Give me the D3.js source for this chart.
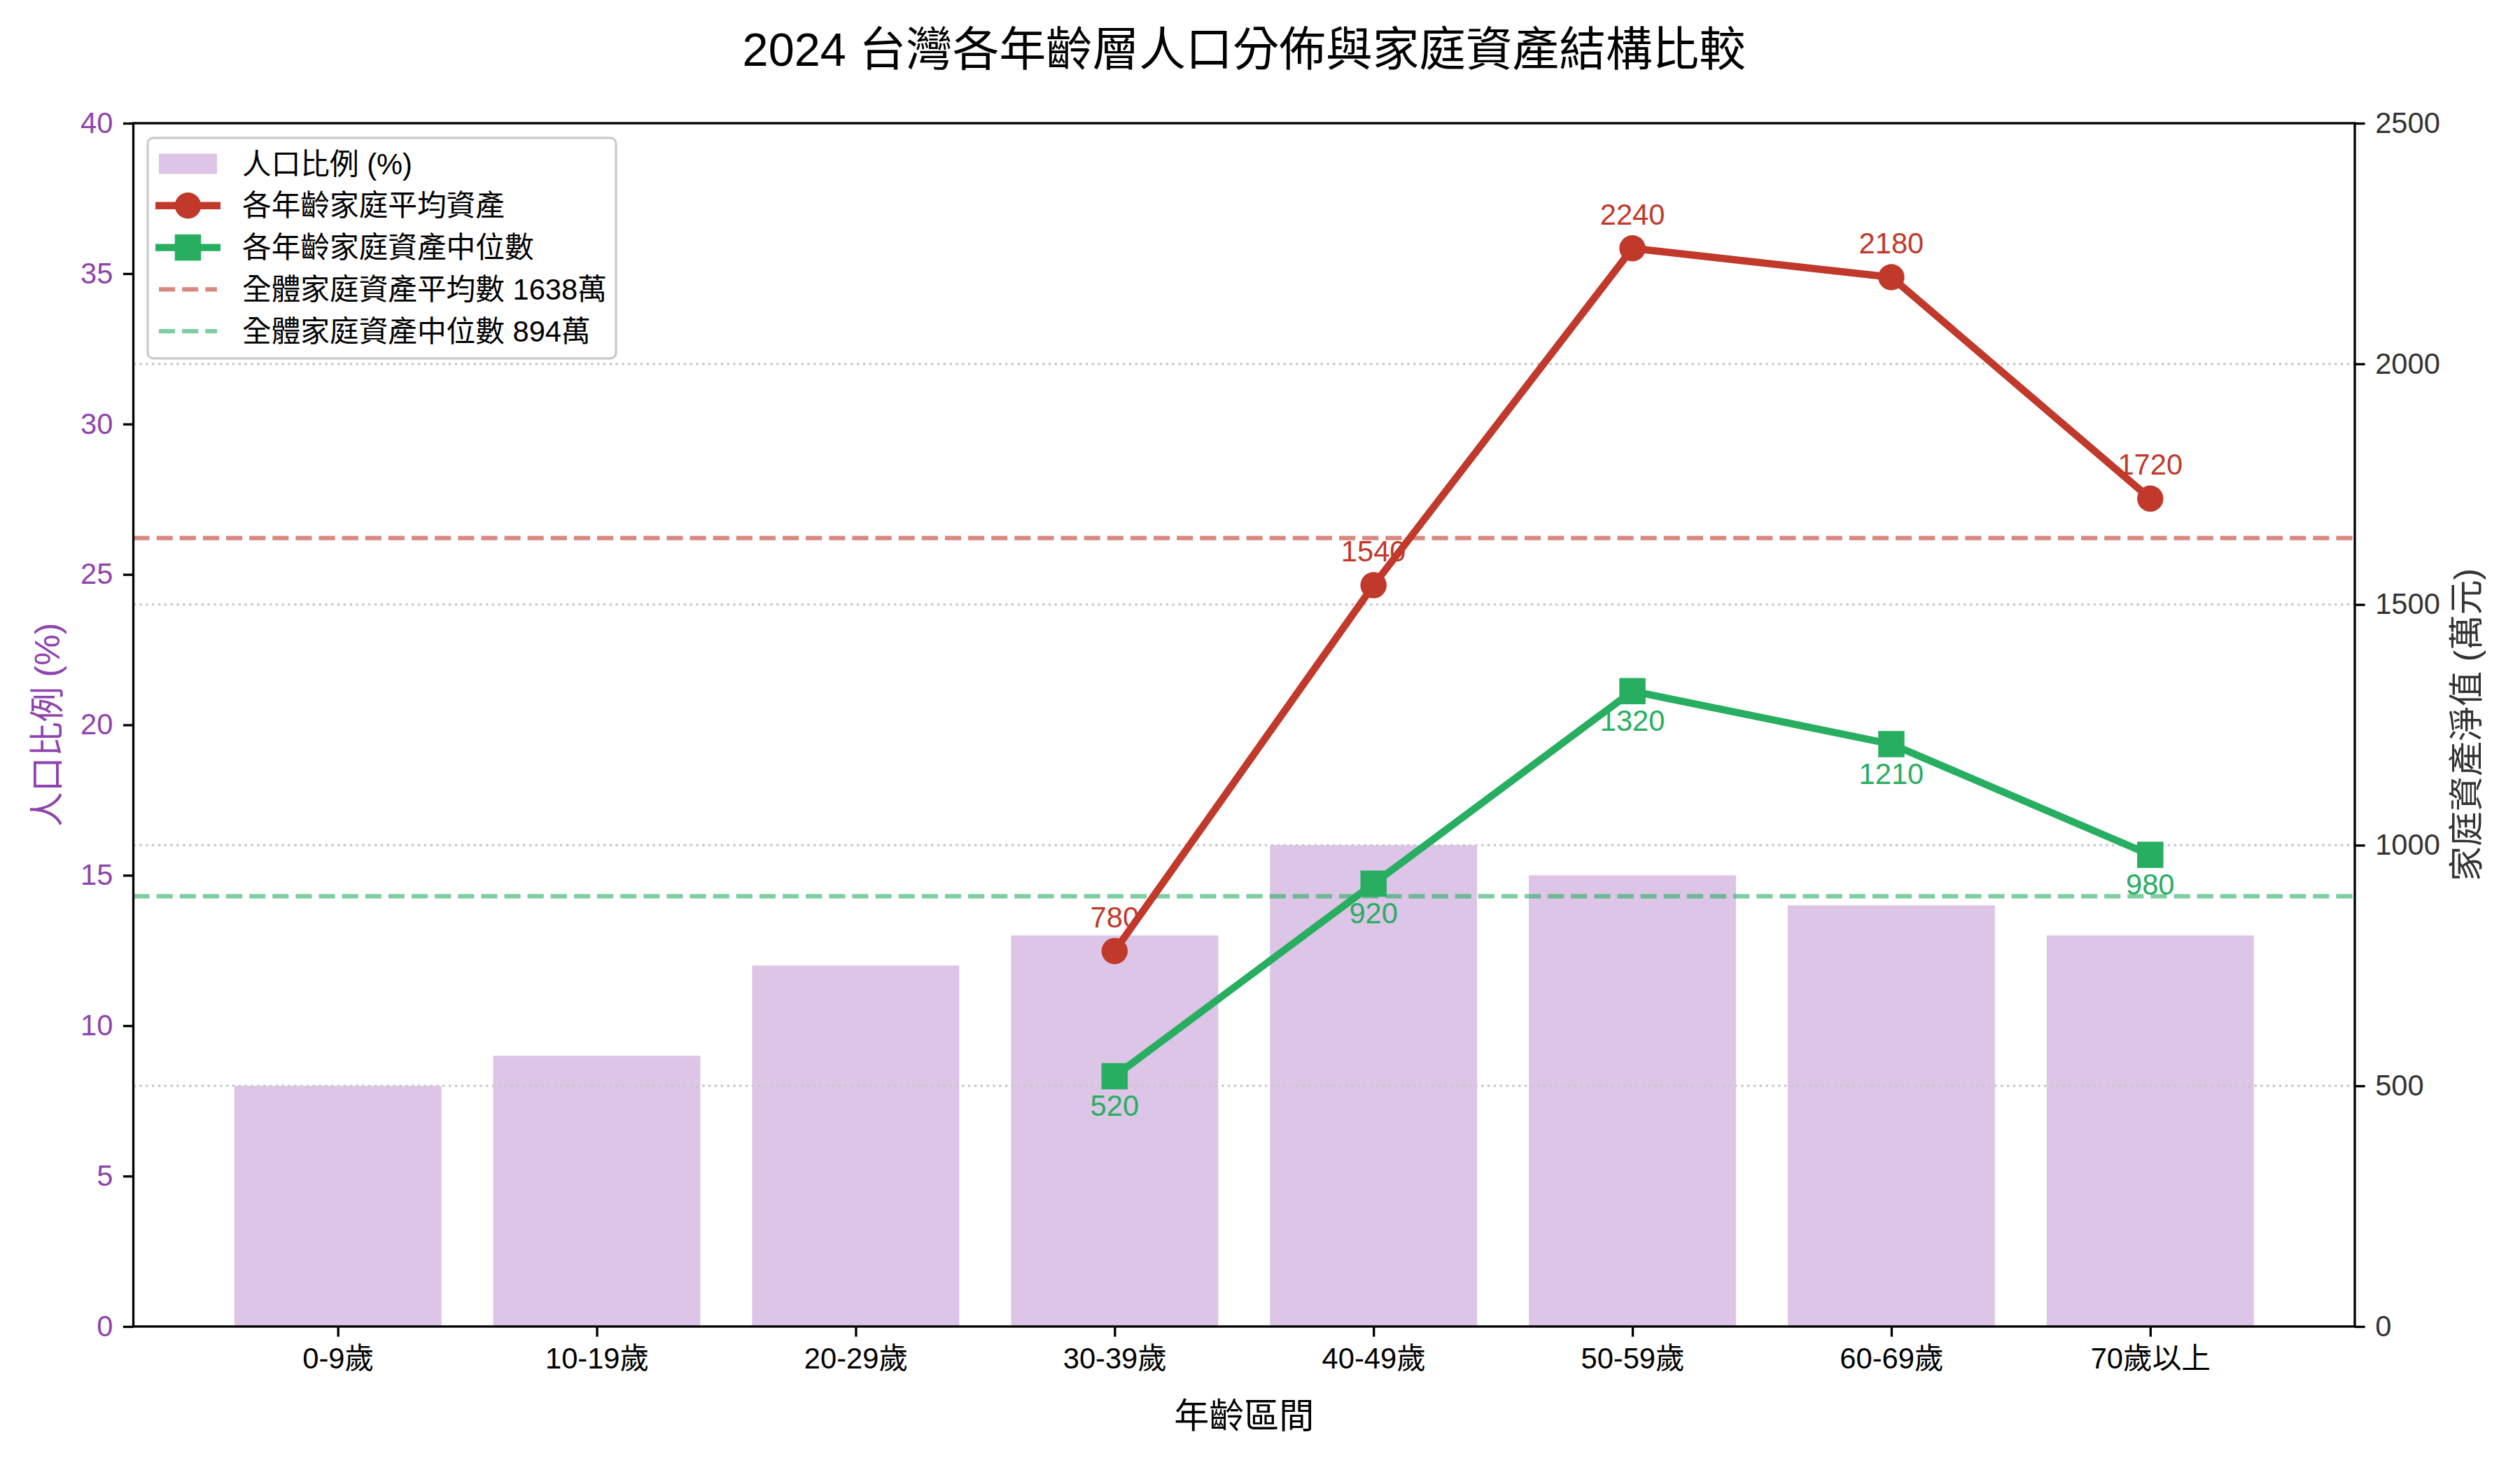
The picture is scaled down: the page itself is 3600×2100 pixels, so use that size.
<!DOCTYPE html>
<html>
<head>
<meta charset="utf-8">
<script src="https://cdn.jsdelivr.net/npm/d3@7"></script>
<style>
  body { margin: 0; background: #fff; }
  text { font-family: "Liberation Sans", Arial, "Noto Sans CJK TC", sans-serif; }
</style>
</head>
<body>
<script>
// Categories and series
const categories = ["0-9歲", "10-19歲", "20-29歲", "30-39歲", "40-49歲", "50-59歲", "60-69歲", "70歲以上"];
const populationPct = [8, 9, 12, 13, 16, 15, 14, 13];
const avgAsset = [null, null, null, 780, 1540, 2240, 2180, 1720];
const medianAsset = [null, null, null, 520, 920, 1320, 1210, 980];
const overallMean = 1638;
const overallMedian = 894;

// Tick labels
const leftTicks = [0, 5, 10, 15, 20, 25, 30, 35, 40];
const rightTicks = [0, 500, 1000, 1500, 2000, 2500];

const titleString = "2024 台灣各年齡層人口分佈與家庭資產結構比較";
const legendLabels = [
  "人口比例 (%)",
  "各年齡家庭平均資產",
  "各年齡家庭資產中位數",
  `全體家庭資產平均數 ${overallMean}萬`,
  `全體家庭資產中位數 ${overallMedian}萬`,
];

// Colours
const purple = "#8e44ad";
const barColor = "#9b59b6";
const red = "#c0392b";
const green = "#27ae60";

// Size constants
const W = 3600, H = 2100;
const margin = { top: 176, right: 236, bottom: 205, left: 190.5 };
const width = W - margin.left - margin.right;
const height = H - margin.top - margin.bottom;
const pt = 300 / 72;

const svg = d3.select("body").append("svg")
  .attr("width", W)
  .attr("height", H);

const g = svg.append("g")
  .attr("transform", `translate(${margin.left},${margin.top})`);

// Scales
const x = d3.scaleLinear().domain([-0.79, 7.79]).range([0, width]);
const yLeft = d3.scaleLinear().domain([0, 40]).range([height, 0]);
const yRight = d3.scaleLinear().domain([0, 2500]).range([height, 0]);

// Bars
const barW = x(0.8) - x(0);
g.selectAll(".bar")
  .data(populationPct)
  .enter()
  .append("rect")
  .attr("class", "bar")
  .attr("x", (d, i) => x(i) - barW / 2)
  .attr("y", (d) => yLeft(d))
  .attr("width", barW)
  .attr("height", (d) => height - yLeft(d))
  .attr("fill", barColor)
  .attr("fill-opacity", 0.35);

// Grid from right axis (dotted)
g.append("g")
  .selectAll("line")
  .data(rightTicks.slice(1, -1))
  .enter()
  .append("line")
  .attr("x1", 0)
  .attr("x2", width)
  .attr("y1", (d) => yRight(d))
  .attr("y2", (d) => yRight(d))
  .attr("stroke", "#c8c8c8")
  .attr("stroke-width", 0.8 * pt)
  .attr("stroke-dasharray", `${0.8 * pt},${1.65 * 0.8 * pt}`);

// Reference lines
const refLines = [
  { v: overallMean, color: red },
  { v: overallMedian, color: green },
];
g.selectAll(".ref")
  .data(refLines)
  .enter()
  .append("line")
  .attr("class", "ref")
  .attr("x1", 0)
  .attr("x2", width)
  .attr("y1", (d) => yRight(d.v))
  .attr("y2", (d) => yRight(d.v))
  .attr("stroke", (d) => d.color)
  .attr("stroke-opacity", 0.6)
  .attr("stroke-width", 1.5 * pt)
  .attr("stroke-dasharray", `${5.55 * pt},${2.4 * pt}`);

// Lines
const line = d3.line()
  .defined((d) => d != null)
  .x((d, i) => x(i))
  .y((d) => yRight(d));

const series = [
  { values: avgAsset, color: red, marker: "circle", labelDy: -34 },
  { values: medianAsset, color: green, marker: "square", labelDy: 57 },
];
const markerSize = 9 * pt;

series.forEach((s) => {
  g.append("path")
    .datum(s.values)
    .attr("d", line)
    .attr("fill", "none")
    .attr("stroke", s.color)
    .attr("stroke-width", 2.5 * pt)
    .attr("stroke-linejoin", "round");

  const pts = s.values.map((v, i) => ({ v, i })).filter((d) => d.v != null);

  if (s.marker === "circle") {
    g.selectAll(null).data(pts).enter().append("circle")
      .attr("cx", (d) => x(d.i))
      .attr("cy", (d) => yRight(d.v))
      .attr("r", markerSize / 2)
      .attr("fill", s.color);
  } else {
    g.selectAll(null).data(pts).enter().append("rect")
      .attr("x", (d) => x(d.i) - markerSize / 2)
      .attr("y", (d) => yRight(d.v) - markerSize / 2)
      .attr("width", markerSize)
      .attr("height", markerSize)
      .attr("fill", s.color);
  }

  // Value labels
  g.selectAll(null).data(pts).enter().append("text")
    .attr("x", (d) => x(d.i))
    .attr("y", (d) => yRight(d.v) + s.labelDy)
    .attr("text-anchor", "middle")
    .style("font-size", `${10 * pt}px`)
    .style("fill", s.color)
    .text((d) => d.v);
});

// Axes frame
const axisColor = "#000";
g.append("rect")
  .attr("width", width)
  .attr("height", height)
  .attr("fill", "none")
  .attr("stroke", axisColor)
  .attr("stroke-width", 0.8 * pt);

const tickLen = 3.5 * pt;
const tickFont = `${10 * pt}px`;

// X axis
const xAxis = d3.axisBottom(x)
  .tickValues(d3.range(categories.length))
  .tickFormat((i) => categories[i])
  .tickSize(tickLen)
  .tickPadding(3.5 * pt);
const gx = g.append("g").attr("transform", `translate(0,${height})`).call(xAxis);
gx.select(".domain").remove();
gx.selectAll(".tick line").attr("stroke", axisColor).attr("stroke-width", 0.8 * pt);
gx.selectAll(".tick text")
  .attr("dy", null)
  .attr("y", 1955 - margin.top - height)
  .style("font-size", tickFont)
  .style("fill", "#000");

// Left axis
const yAxisL = d3.axisLeft(yLeft)
  .tickValues(leftTicks)
  .tickFormat(d3.format("d"))
  .tickSize(tickLen)
  .tickPadding(3.5 * pt);
const gl = g.append("g").call(yAxisL);
gl.select(".domain").remove();
gl.selectAll(".tick line").attr("stroke", axisColor).attr("stroke-width", 0.8 * pt);
gl.selectAll(".tick text").style("font-size", tickFont).style("fill", purple);

// Right axis
const yAxisR = d3.axisRight(yRight)
  .tickValues(rightTicks)
  .tickFormat(d3.format("d"))
  .tickSize(tickLen)
  .tickPadding(3.5 * pt);
const gr = g.append("g").attr("transform", `translate(${width},0)`).call(yAxisR);
gr.select(".domain").remove();
gr.selectAll(".tick line").attr("stroke", axisColor).attr("stroke-width", 0.8 * pt);
gr.selectAll(".tick text").style("font-size", tickFont).style("fill", "#333");

// Title
svg.append("text")
  .attr("x", margin.left + width / 2)
  .attr("y", 94)
  .attr("text-anchor", "middle")
  .style("font-size", `${16 * pt}px`)
  .style("fill", "#000")
  .text(titleString);

// Axis labels
svg.append("text")
  .attr("x", margin.left + width / 2)
  .attr("y", 2040)
  .attr("text-anchor", "middle")
  .style("font-size", `${12 * pt}px`)
  .style("fill", "#000")
  .text("年齡區間");

svg.append("text")
  .attr("transform", `translate(67,${margin.top + height / 2}) rotate(-90)`)
  .attr("text-anchor", "middle")
  .attr("dy", "0.35em")
  .style("font-size", `${12 * pt}px`)
  .style("fill", purple)
  .text("人口比例 (%)");

svg.append("text")
  .attr("transform", `translate(3523,${margin.top + height / 2}) rotate(-90)`)
  .attr("text-anchor", "middle")
  .attr("dy", "0.35em")
  .style("font-size", `${12 * pt}px`)
  .style("fill", "#333")
  .text("家庭資產淨值 (萬元)");

// Legend
const legend = svg.append("g");
legend.append("rect")
  .attr("x", 211)
  .attr("y", 197)
  .attr("width", 669)
  .attr("height", 315)
  .attr("rx", 8)
  .attr("fill", "#fff")
  .attr("fill-opacity", 0.8)
  .attr("stroke", "#cccccc")
  .attr("stroke-width", 0.8 * pt);

const rowY = (i) => 234 + i * 59.8;
const hx1 = 222, hx2 = 315, hmid = (hx1 + hx2) / 2;

legendLabels.forEach((label, i) => {
  const cy = rowY(i);
  if (i === 0) {
    legend.append("rect")
      .attr("x", 227).attr("y", cy - 14.5)
      .attr("width", 83).attr("height", 29)
      .attr("fill", barColor).attr("fill-opacity", 0.35);
  } else if (i < 3) {
    const s = series[i - 1];
    legend.append("line")
      .attr("x1", hx1).attr("x2", hx2).attr("y1", cy).attr("y2", cy)
      .attr("stroke", s.color).attr("stroke-width", 2.5 * pt);
    if (s.marker === "circle") {
      legend.append("circle").attr("cx", hmid).attr("cy", cy)
        .attr("r", markerSize / 2).attr("fill", s.color);
    } else {
      legend.append("rect")
        .attr("x", hmid - markerSize / 2).attr("y", cy - markerSize / 2)
        .attr("width", markerSize).attr("height", markerSize)
        .attr("fill", s.color);
    }
  } else {
    const c = refLines[i - 3].color;
    legend.append("line")
      .attr("x1", 227).attr("x2", 310).attr("y1", cy).attr("y2", cy)
      .attr("stroke", c).attr("stroke-opacity", 0.6)
      .attr("stroke-width", 1.5 * pt)
      .attr("stroke-dasharray", `${5.55 * pt},${2.4 * pt}`);
  }
  legend.append("text")
    .attr("x", 346)
    .attr("y", cy)
    .attr("dy", "0.35em")
    .style("font-size", `${10 * pt}px`)
    .style("fill", "#000")
    .text(label);
});
</script>
</body>
</html>
